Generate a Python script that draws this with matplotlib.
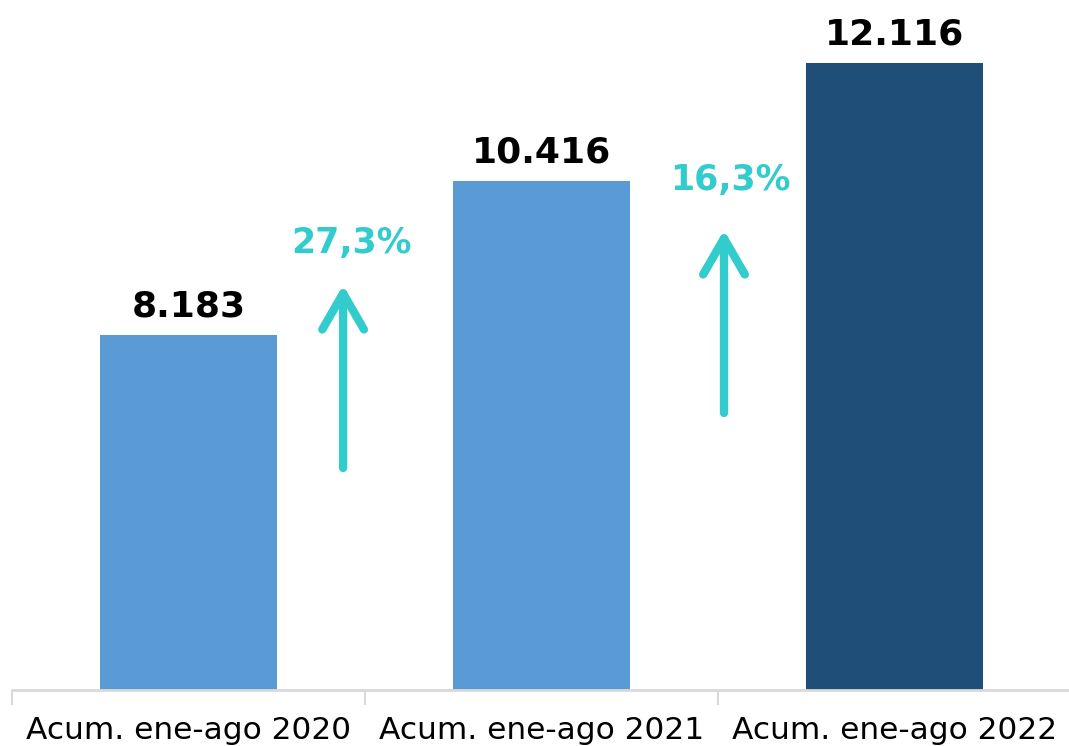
import matplotlib
matplotlib.use('Agg')
import matplotlib.pyplot as plt

# data
categories = ['Acum. ene-ago 2020', 'Acum. ene-ago 2021', 'Acum. ene-ago 2022']
values = [8183, 10416, 12116]
value_labels = ['8.183', '10.416', '12.116']
growth_labels = ['27,3%', '16,3%']

bar_colors = ['#5B9BD5', '#5B9BD5', '#1F4E79']
teal = '#33CCCC'

# arrow placement (x between bars, y start/end in data units)
arrow_x = [0.438, 1.517]
arrow_y0 = [6260, 7055]
arrow_y1 = [8906, 9701]
growth_pos = [(0.463, 9513), (1.534, 10424)]

fig = plt.figure(figsize=(10.69, 7.46), dpi=100)
ax = fig.add_axes([12 / 1069, 56 / 746, 1059 / 1069, 690 / 746])

x = list(range(len(categories)))
ax.bar(x, values, width=0.5, color=bar_colors, zorder=2)

for xi, v, lab in zip(x, values, value_labels):
    ax.annotate(lab, (xi, v), xytext=(0, 13), textcoords='offset points',
                ha='center', va='baseline', fontsize=26, fontweight='bold',
                family='DejaVu Sans', color='black')

# growth arrows
for xa, y0, y1 in zip(arrow_x, arrow_y0, arrow_y1):
    ax.annotate('', xy=(xa, y1), xytext=(xa, y0),
                arrowprops=dict(arrowstyle='->,head_length=2.6,head_width=1.5',
                                color=teal, lw=6, capstyle='round',
                                joinstyle='round', shrinkA=0, shrinkB=0))

for (gx, gy), lab in zip(growth_pos, growth_labels):
    ax.text(gx, gy, lab, ha='center', va='center', fontsize=25,
            fontweight='bold', color=teal, family='DejaVu Sans')

ax.set_xlim(-0.5, 2.5)
ax.set_ylim(3050, 13027)

# category ticks at the boundaries, labels centred under bars
ax.set_xticks([-0.5, 0.5, 1.5, 2.5])
ax.set_xticklabels([])
ax.set_xticks(x, minor=True)
ax.set_xticklabels(categories, minor=True, fontsize=22.5, color='black',
                   family='DejaVu Sans')
ax.tick_params(axis='x', which='major', length=11, width=1.5, color='#D9D9D9')
ax.tick_params(axis='x', which='minor', length=0, pad=19)
ax.set_yticks([])

for s in ['top', 'right', 'left']:
    ax.spines[s].set_visible(False)
ax.spines['bottom'].set_color('#D9D9D9')
ax.spines['bottom'].set_linewidth(2)

fig.savefig('out.png', dpi=100)
